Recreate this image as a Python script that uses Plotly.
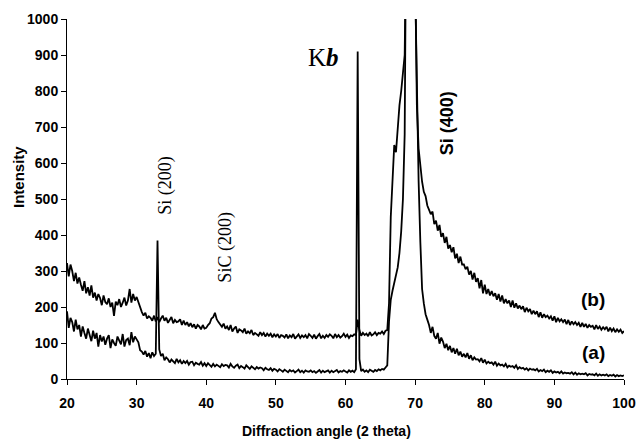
import plotly.graph_objects as go

# Sampling grid: 2-theta from 20 to 100 in 0.25 degree steps
angle = [20 + 0.25 * i for i in range(321)]

# Curve (a) intensity (4 values per degree)
intensity_a = [
    188, 142, 170, 158,   # 20
    132, 165, 138, 150,   # 21
    118, 146, 128, 112,   # 22
    140, 120, 105, 134,   # 23
    112, 128, 90, 122,    # 24
    104, 118, 95, 112,    # 25
    122, 86, 110, 100,    # 26
    92, 118, 104, 96,     # 27
    125, 90, 108, 112,    # 28
    94, 130, 102, 118,    # 29
    110, 102, 80, 76,     # 30
    68, 78, 62, 72,       # 31
    58, 74, 64, 70,       # 32
    385, 82, 64, 70,      # 33
    52, 60, 55, 46,       # 34
    54, 48, 44, 56,       # 35
    46, 52, 42, 50,       # 36
    44, 50, 40, 47,       # 37
    48, 38, 45, 42,       # 38
    40, 47, 37, 44,       # 39
    36, 44, 39, 34,       # 40
    42, 35, 40, 37,       # 41
    33, 41, 36, 39,       # 42
    38, 32, 42, 35,       # 43
    31, 37, 40, 30,       # 44
    36, 33, 29, 38,       # 45
    34, 28, 35, 31,       # 46
    27, 33, 29, 32,       # 47
    30, 24, 31, 27,       # 48
    25, 30, 23, 28,       # 49
    26, 21, 27, 24,       # 50
    20, 26, 23, 19,       # 51
    25, 21, 24, 18,       # 52
    22, 26, 19, 23,       # 53
    18, 24, 21, 20,       # 54
    24, 19, 22, 17,       # 55
    21, 25, 18, 23,       # 56
    19, 22, 24, 18,       # 57
    23, 19, 21, 25,       # 58
    18, 22, 20, 24,       # 59
    21, 18, 24, 20,       # 60
    23, 19, 27, 910,      # 61
    55, 22, 26, 20,       # 62
    24, 19, 26, 22,       # 63
    20, 25, 22, 27,       # 64
    24, 28, 26, 32,       # 65
    38, 160, 220, 245,    # 66
    265, 285, 310, 350,   # 67
    410, 500, 680, 1400,  # 68
    2800, 3500, 3500, 2800,  # 69
    1100, 800, 550, 380,  # 70
    250, 210, 180, 165,   # 71
    150, 128, 145, 120,   # 72
    112, 128, 98, 115,    # 73
    104, 86, 98, 80,      # 74
    92, 74, 86, 70,       # 75
    84, 66, 76, 62,       # 76
    70, 60, 72, 56,       # 77
    66, 52, 60, 54,       # 78
    55, 49, 58, 45,       # 79
    54, 43, 48, 44,       # 80
    46, 40, 48, 37,       # 81
    43, 38, 40, 35,       # 82
    42, 32, 37, 34,       # 83
    36, 31, 38, 28,       # 84
    33, 29, 31, 26,       # 85
    30, 24, 29, 26,       # 86
    27, 24, 28, 21,       # 87
    25, 22, 26, 19,       # 88
    23, 20, 24, 17,       # 89
    21, 18, 20, 16,       # 90
    21, 15, 18, 16,       # 91
    17, 15, 19, 13,       # 92
    18, 12, 16, 13,       # 93
    15, 13, 16, 10,       # 94
    14, 12, 13, 10,       # 95
    15, 9, 13, 10,        # 96
    12, 10, 13, 8,        # 97
    11, 9, 12, 7,         # 98
    11, 8, 10, 8,         # 99
    10,                   # 100
]

# Curve (b) intensity (4 values per degree)
intensity_b = [
    322, 285, 318, 300,   # 20
    272, 295, 265, 282,   # 21
    262, 245, 272, 238,   # 22
    255, 232, 260, 226,   # 23
    240, 218, 236, 225,   # 24
    205, 232, 214, 208,   # 25
    224, 200, 212, 175,   # 26
    215, 205, 222, 200,   # 27
    212, 226, 204, 218,   # 28
    250, 212, 236, 218,   # 29
    228, 212, 196, 186,   # 30
    176, 184, 168, 174,   # 31
    170, 162, 176, 160,   # 32
    172, 158, 168, 176,   # 33
    162, 170, 156, 166,   # 34
    172, 155, 164, 158,   # 35
    160, 166, 150, 162,   # 36
    150, 158, 146, 155,   # 37
    144, 152, 140, 150,   # 38
    146, 138, 150, 140,   # 39
    142, 150, 155, 168,   # 40
    172, 184, 166, 158,   # 41
    150, 145, 154, 140,   # 42
    146, 136, 150, 132,   # 43
    140, 146, 128, 138,   # 44
    135, 130, 140, 126,   # 45
    132, 127, 136, 122,   # 46
    128, 124, 120, 130,   # 47
    122, 128, 118, 126,   # 48
    120, 126, 116, 124,   # 49
    118, 125, 114, 122,   # 50
    120, 115, 124, 113,   # 51
    121, 116, 125, 112,   # 52
    118, 124, 114, 121,   # 53
    116, 122, 113, 125,   # 54
    120, 114, 123, 112,   # 55
    119, 125, 113, 120,   # 56
    114, 122, 117, 124,   # 57
    120, 113, 125, 116,   # 58
    122, 115, 119, 126,   # 59
    117, 123, 114, 121,   # 60
    119, 124, 122, 165,   # 61
    135, 120, 128, 122,   # 62
    126, 119, 130, 121,   # 63
    124, 130, 122, 128,   # 64
    126, 132, 125, 134,   # 65
    136, 210, 450, 565,   # 66
    650, 630, 700, 760,   # 67
    800, 845, 900, 1300,  # 68
    3000, 3800, 3800, 3000,  # 69
    1150, 760, 640, 585,  # 70
    548, 520, 508, 482,   # 71
    470, 458, 465, 430,   # 72
    440, 412, 428, 395,   # 73
    405, 378, 395, 362,   # 74
    372, 352, 366, 335,   # 75
    348, 322, 340, 318,   # 76
    318, 305, 312, 290,   # 77
    300, 276, 295, 270,   # 78
    280, 252, 275, 238,   # 79
    262, 236, 250, 232,   # 80
    244, 230, 238, 220,   # 81
    236, 215, 232, 210,   # 82
    222, 210, 218, 200,   # 83
    218, 198, 210, 196,   # 84
    204, 194, 202, 186,   # 85
    198, 188, 194, 180,   # 86
    190, 180, 188, 172,   # 87
    185, 170, 180, 172,   # 88
    176, 168, 174, 162,   # 89
    174, 158, 170, 160,   # 90
    166, 158, 165, 152,   # 91
    164, 150, 160, 152,   # 92
    158, 150, 156, 145,   # 93
    156, 145, 153, 142,   # 94
    150, 145, 148, 138,   # 95
    150, 139, 146, 137,   # 96
    144, 138, 145, 132,   # 97
    143, 133, 140, 130,   # 98
    138, 131, 137, 128,   # 99
    133,                  # 100
]

x_ticks = [20, 30, 40, 50, 60, 70, 80, 90, 100]
y_ticks = [0, 100, 200, 300, 400, 500, 600, 700, 800, 900, 1000]

fig = go.Figure()
for ys in (intensity_a, intensity_b):
    fig.add_trace(go.Scatter(x=angle, y=ys, mode="lines",
                             line=dict(color="black", width=1.8),
                             showlegend=False, hoverinfo="skip"))

sans = "Liberation Sans, Arial, sans-serif"
serif = "Liberation Serif, Times New Roman, serif"
tick_font = dict(family=sans, size=14, color="black", weight="bold")

fig.update_xaxes(range=[20, 100], tickvals=x_ticks, ticks="outside", ticklen=5,
                 tickcolor="black", showline=True, linecolor="black", linewidth=1,
                 showgrid=False, zeroline=False, tickfont=tick_font,
                 ticklabelstandoff=6, automargin=False)
fig.update_yaxes(range=[0, 1000], tickvals=y_ticks, ticks="outside", ticklen=5,
                 tickcolor="black", showline=True, linecolor="black", linewidth=1,
                 showgrid=False, zeroline=False, tickfont=tick_font,
                 ticklabelstandoff=0, automargin=False)

annos = [
    dict(x=34.2, y=539, text="Si (200)", textangle=-90, font=dict(family=serif, size=18)),
    dict(x=42.8, y=367, text="SiC (200)", textangle=-90, font=dict(family=serif, size=18)),
    dict(x=56.8, y=892, text="K<b><i>b</i></b>", font=dict(family=serif, size=25)),
    dict(x=74.6, y=711, text="<b>Si (400)</b>", textangle=-90, font=dict(family=sans, size=18)),
    dict(x=95.6, y=222, text="<b>(b)</b>", font=dict(family=sans, size=19)),
    dict(x=95.6, y=75, text="<b>(a)</b>", font=dict(family=sans, size=19)),
]
for a in annos:
    fig.add_annotation(showarrow=False, xref="x", yref="y",
                       xanchor="center", yanchor="middle", **a)

fig.add_annotation(text="<b>Diffraction angle (2 theta)</b>", xref="paper", yref="paper",
                   x=(326 - 67) / 557, y=-(431 - 379) / 360, showarrow=False,
                   xanchor="center", yanchor="middle",
                   font=dict(family=sans, size=14, color="black"))
fig.add_annotation(text="<b>Intensity</b>", xref="paper", yref="paper",
                   x=-(67 - 18) / 557, y=(379 - 177) / 360, showarrow=False, textangle=-90,
                   xanchor="center", yanchor="middle",
                   font=dict(family=sans, size=15, color="black"))

fig.update_layout(template="none", width=637, height=446,
                  margin=dict(l=67, r=13, t=19, b=67),
                  plot_bgcolor="white", paper_bgcolor="white",
                  font=dict(color="black"))

fig.write_html("out.html", config={"displayModeBar": False},
               post_script="document.body.style.margin='0';document.body.style.overflow='hidden';")
